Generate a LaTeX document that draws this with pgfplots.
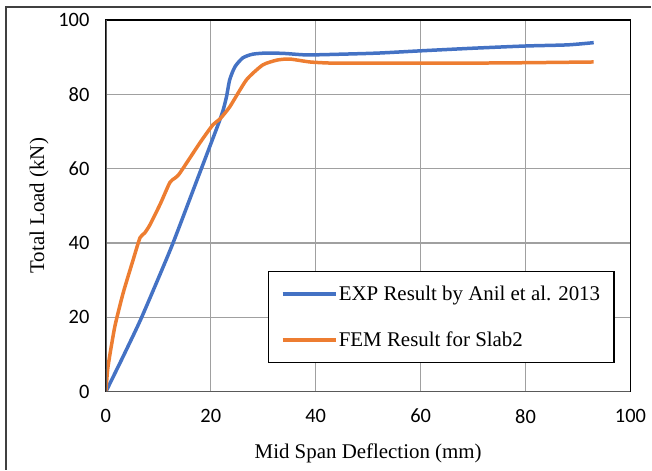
\documentclass[border=0pt]{standalone}
\usepackage{pgfplots}
\pgfplotsset{compat=1.18}
\usepackage{fontspec}
\setmainfont{Liberation Serif}
\newfontfamily\tickfont{Carlito}
\definecolor{expblue}{RGB}{68,114,196}
\definecolor{femorange}{RGB}{237,125,49}
\definecolor{gridgray}{RGB}{160,160,160}
\begin{document}
\begin{tikzpicture}
\path (0,0) rectangle (652bp,470bp);
\draw[line width=1.2bp, black!75] (6bp,0bp) -- (6bp,463bp) -- (652bp,463bp);
\begin{axis}[
  at={(106bp,78bp)}, anchor=south west,
  scale only axis, width=525bp, height=372bp,
  xmin=0, xmax=100, ymin=0, ymax=100,
  xtick={0,20,...,100}, ytick={0,20,...,100},
  major tick length=0pt,
  grid=major,
  major grid style={gridgray, line width=1.2bp},
  axis line style={black, line width=1.5bp},
  /pgf/number format/assume math mode=true,
  xticklabel style={font=\tickfont\fontsize{20.5}{22}\selectfont, yshift=-14bp},
  yticklabel style={font=\tickfont\fontsize{20.5}{22}\selectfont, xshift=-13bp},
  xlabel={Mid Span Deflection (mm)},
  ylabel={Total Load (kN)},
  xlabel style={font=\fontsize{21}{24}\selectfont, at={(axis description cs:0.5,-0.180)}, anchor=base},
  ylabel style={font=\fontsize{21}{24}\selectfont, at={(axis description cs:-0.118,0.5)}, anchor=base},
  legend cell align=left,
  legend image code/.code={\draw[#1, line width=3.5bp] (0bp,0bp) -- (53bp,0bp);},
  legend style={at={(0.3086,0.325)}, anchor=north west, draw=black, line width=1.3bp,
    font=\fontsize{21}{24}\selectfont, nodes={inner sep=1.5bp},
    inner xsep=12.5bp, inner ysep=13bp, row sep=27bp},
]
\addplot[expblue, line width=3.5bp, smooth, tension=0.4] coordinates {
(0,0) (3.3,9.5) (6.5,19) (9.7,29.5) (12.8,40) (17.2,56.3) (21.3,71.5)
(22.3,75.5) (23,79.4) (23.6,83.9) (24.6,87.4) (26.1,89.8) (28,90.8)
(30.6,91.1) (34,91) (38.3,90.6) (45,90.8) (52,91.1) (60,91.7) (70,92.4) (80,93)
(88,93.3) (93,93.9)
};
\addlegendentry{EXP Result by Anil et al. 2013}
\addplot[femorange, line width=3.5bp, smooth, tension=0.35] coordinates {
(0,0) (0.4,6.7) (1.7,17.5) (3.3,26.6) (5.2,35.5) (6.5,41.4) (7.4,42.7)
(8.4,44.9) (10.4,50.6) (12.2,56.3) (13.2,57.5) (14.1,58.8) (17.9,66.9)
(20.4,71.8) (21.7,73.3) (23.6,76.6) (26.8,83.9) (29.9,87.9) (32.6,89.2)
(35,89.5) (38.9,88.7) (43,88.4) (50,88.4) (60,88.4) (70,88.4) (80,88.5) (93,88.7)
};
\addlegendentry{FEM Result for Slab2}
\draw[black!65, line width=2bp] (rel axis cs:0,1) -- (rel axis cs:0,0) -- (rel axis cs:1,0);
\end{axis}
\end{tikzpicture}
\end{document}
